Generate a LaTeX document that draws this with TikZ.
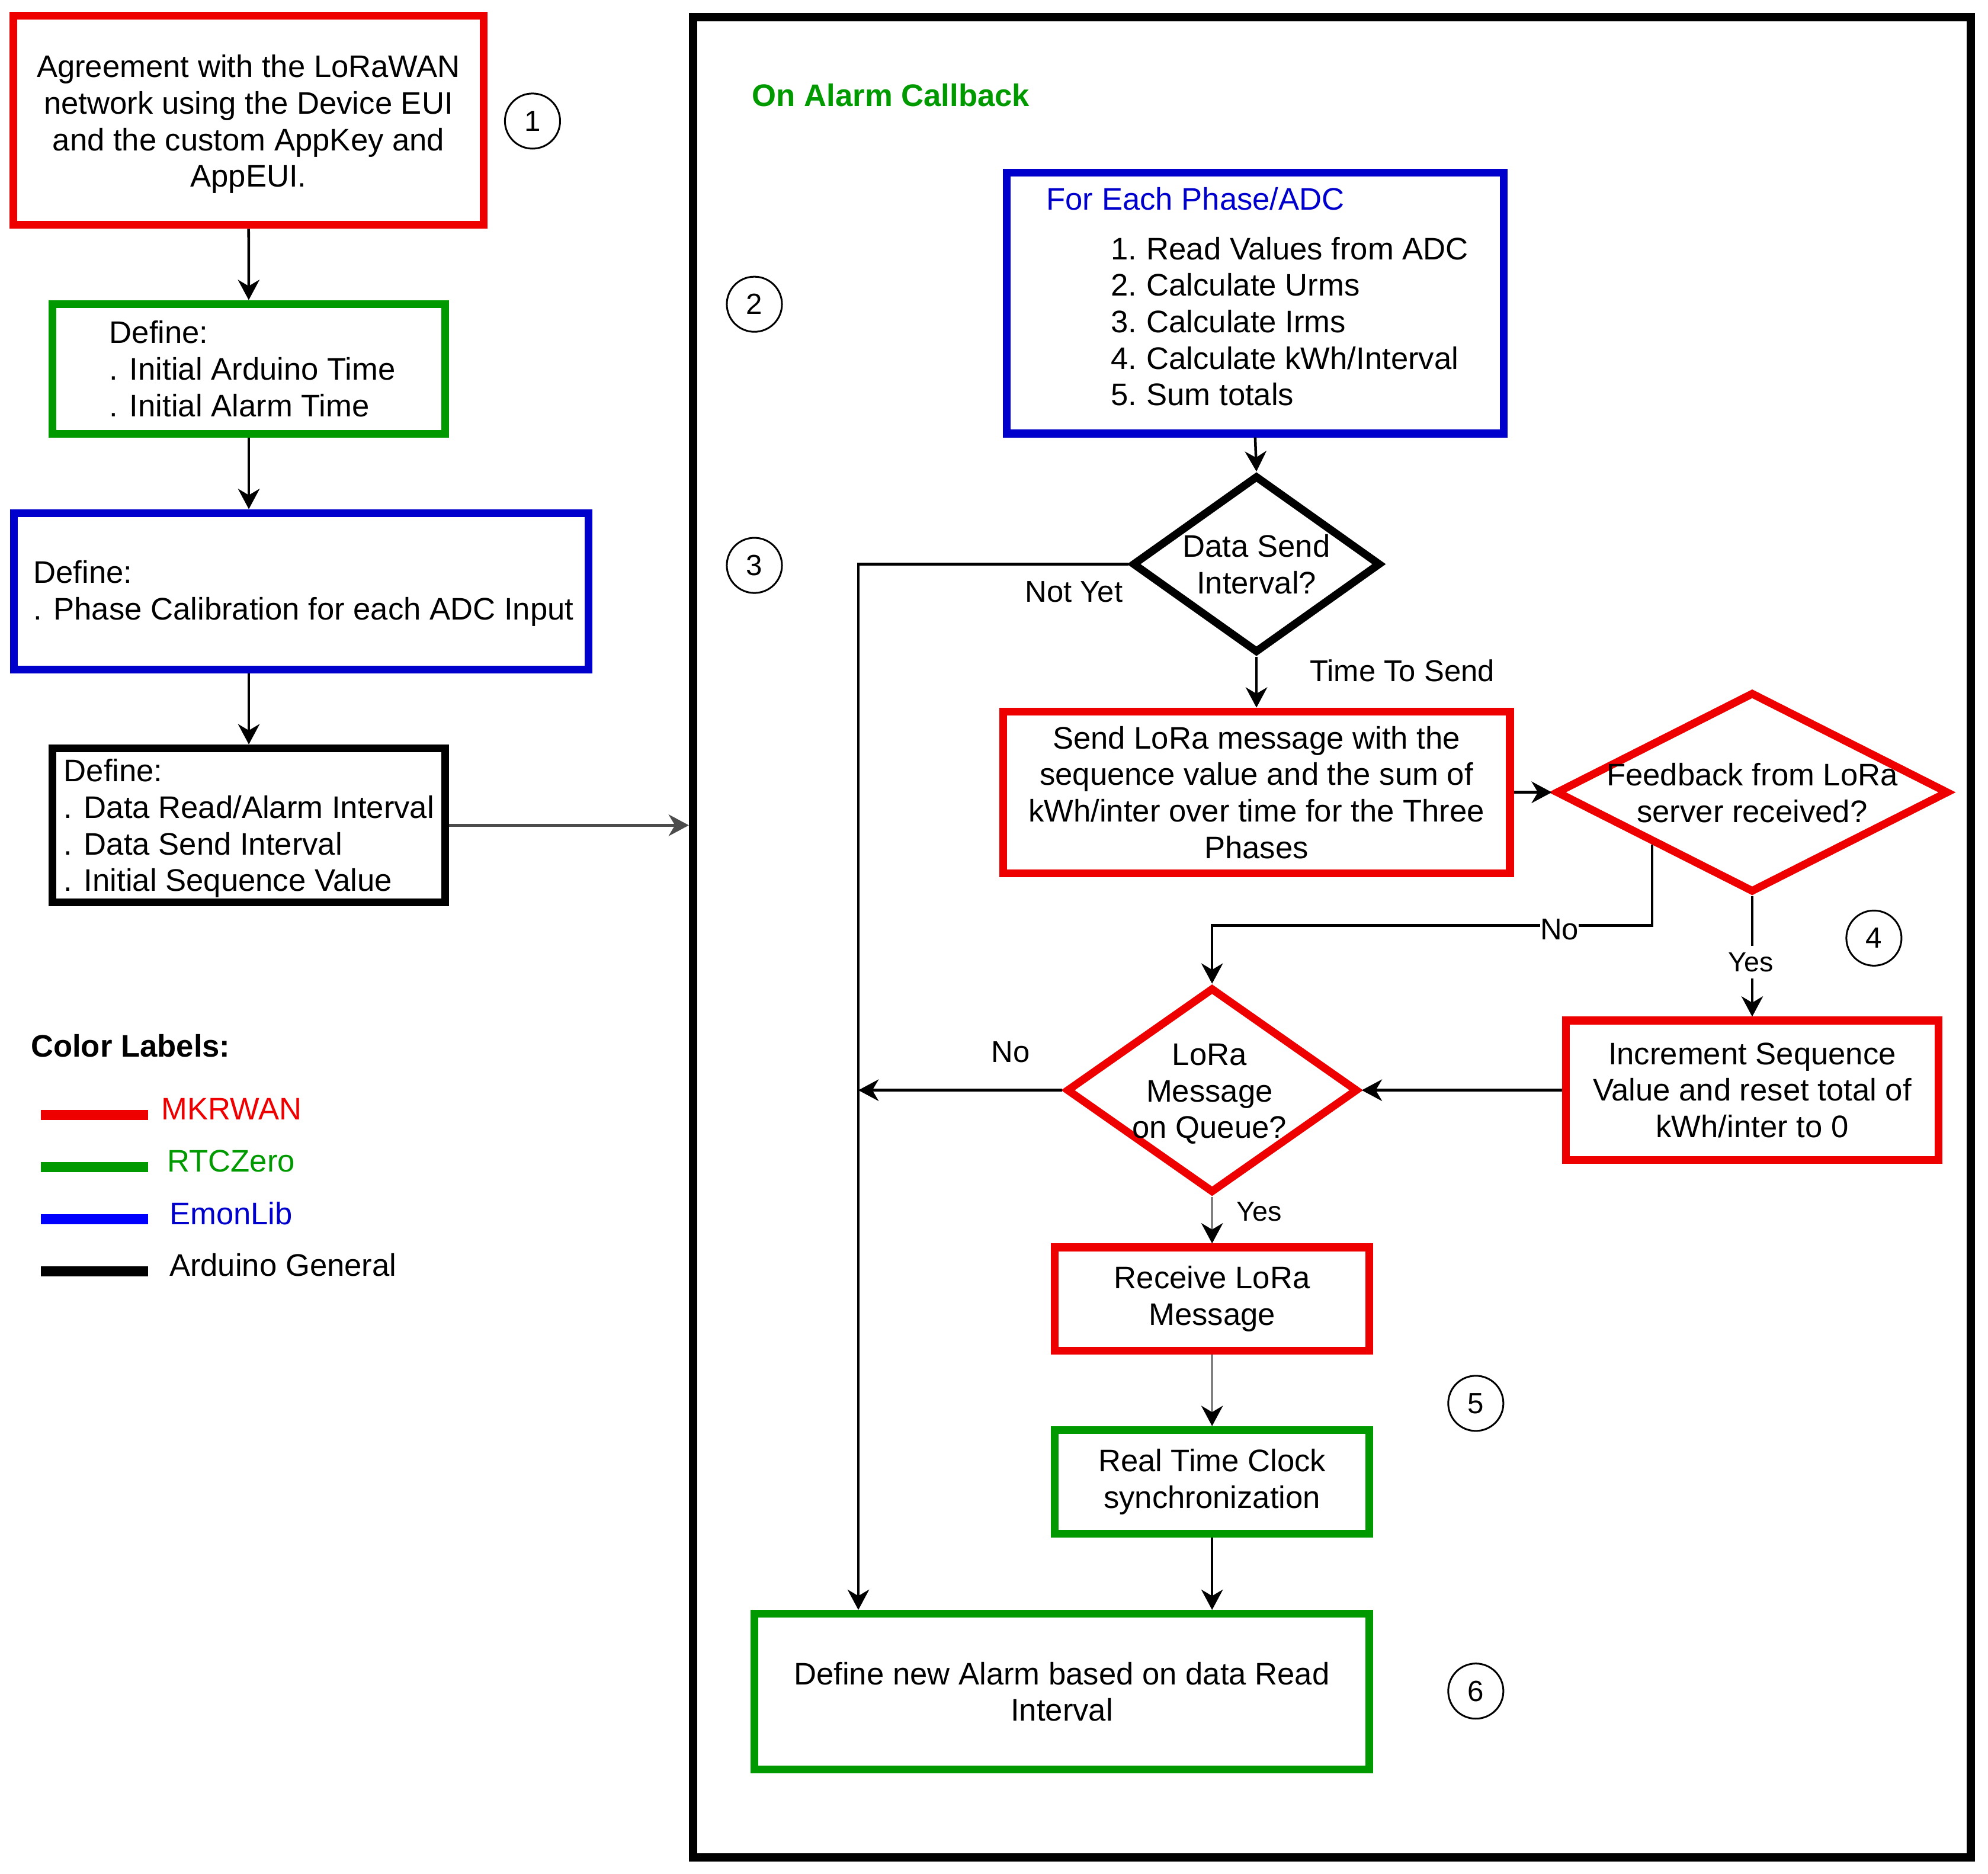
\documentclass[tikz,border=0pt]{standalone}
\usepackage{fontspec}
\setmainfont{Liberation Sans}
\usetikzlibrary{arrows.meta,shapes.geometric}
\definecolor{cred}{HTML}{EE0000}
\definecolor{cgreen}{HTML}{009900}
\definecolor{cblue}{HTML}{0000CC}
\definecolor{lblue}{HTML}{0000FF}
\begin{document}
\begin{tikzpicture}[x=0.02cm,y=-0.02cm,
  every node/.style={font=\fontsize{14.0}{16.4}\selectfont, inner sep=0pt},
  box/.style={draw, rectangle, line width=3.5pt, align=center},
  dia/.style={draw, diamond, line width=3.5pt},
  arr/.style={line width=1.2pt, -{Stealth[length=0.32cm,width=0.34cm,inset=0.1cm]}},
  arrg/.style={line width=1.2pt, draw=black!50, -{Stealth[length=0.32cm,width=0.34cm,inset=0.1cm,color=black]}},
  txt/.style={align=center},
  ltxt/.style={align=left, anchor=west},
  lbl/.style={font=\fontsize{13.5}{16}\selectfont},
  ylbl/.style={font=\fontsize{12.4}{15}\selectfont},
  num/.style={draw, circle, line width=0.8pt, minimum size=0.87cm, font=\fontsize{13.1}{15}\selectfont},
  legbar/.style={minimum width=1.694cm, minimum height=0.16cm},
]
\useasboundingbox (0,0) rectangle (1568,1478);

% outer frame
\node[draw, rectangle, line width=3.7pt, minimum width=20.16cm, minimum height=29.04cm] (fr) at (1050.5,739.5) {};

% left column
\node[box, draw=cred, minimum width=7.42cm, minimum height=3.30cm] (r1) at (196,95) {};
\node[txt] (r1t) at (196,98) {Agreement with the LoRaWAN\\network using the Device EUI\\and the custom AppKey and\\AppEUI.};
\node[num] (n1) at (420,95.5) {1};

\node[box, draw=cgreen, minimum width=6.19cm, minimum height=2.05cm] (g1) at (196.25,291) {};
\node[ltxt] (g1t) at (86,291) {Define:\\. Initial Arduino Time\\. Initial Alarm Time};

\node[box, draw=cblue, minimum width=9.07cm, minimum height=2.47cm] (b1) at (237.5,466.4) {};
\node[ltxt] (b1t) at (26,468) {Define:\\. Phase Calibration for each ADC Input};

\node[box, draw=black, minimum width=6.19cm, minimum height=2.43cm] (k1) at (196.25,651) {};
\node[ltxt] (k1t) at (50,653.5) {Define:\\. Data Read/Alarm Interval\\. Data Send Interval\\. Initial Sequence Value};

% legend
\node[anchor=west, font=\fontsize{14.0}{16.4}\selectfont\bfseries] (cl) at (24,825) {Color Labels:};
\node[legbar, fill=cred] (lb1) at (74.5,879.5) {};
\node[legbar, fill=cgreen] (lb2) at (74.5,920.7) {};
\node[legbar, fill=lblue] (lb3) at (74.5,961.8) {};
\node[legbar, fill=black] (lb4) at (74.5,1003) {};
\node[anchor=west, text=cred] (lt1) at (127,875) {MKRWAN};
\node[anchor=west, text=cgreen] (lt2) at (131.6,916) {RTCZero};
\node[anchor=west, text=cblue] (lt3) at (133.3,957) {EmonLib};
\node[anchor=west] (lt4) at (133.3,998) {Arduino General};

% right part
\node[anchor=west, text=cgreen, font=\fontsize{14.0}{16.4}\selectfont\bfseries] (oac) at (593,75) {On Alarm Callback};
\node[num] (n2) at (595,240) {2};
\node[num] (n3) at (595,446) {3};
\node[num] (n4) at (1478,740) {4};
\node[num] (n5) at (1164,1107) {5};
\node[num] (n6) at (1164,1334) {6};

\node[box, draw=cblue, minimum width=7.84cm, minimum height=4.12cm] (bl2) at (990,239) {};
\node[anchor=west, text=cblue] (bl2t) at (825,157) {For Each Phase/ADC};
\node[ltxt] (bl2l) at (876,253.5) {\makebox[0.56cm][l]{1.}Read Values from ADC\\\makebox[0.56cm][l]{2.}Calculate Urms\\\makebox[0.56cm][l]{3.}Calculate Irms\\\makebox[0.56cm][l]{4.}Calculate kWh/Interval\\\makebox[0.56cm][l]{5.}Sum totals};

\node[dia, minimum width=3.92cm, minimum height=2.8cm] (dsi) at (991,445) {};
\node[txt] (dsit) at (991,445) {Data Send\\Interval?};

\node[box, draw=cred, minimum width=8.0cm, minimum height=2.55cm] (snd) at (991,625) {Send LoRa message with the\\sequence value and the sum of\\kWh/inter over time for the Three\\Phases};

\node[dia, draw=cred, minimum width=6.2cm, minimum height=3.16cm] (fb) at (1382,625) {};
\node[txt] (fbt) at (1382,625.5) {Feedback from LoRa\\server received?};

\node[box, draw=cred, minimum width=5.88cm, minimum height=2.2cm] (inc) at (1382,860) {Increment Sequence\\Value and reset total of\\kWh/inter to 0};

\node[dia, draw=cred, minimum width=4.6cm, minimum height=3.24cm] (q) at (956,860) {};
\node[txt] (qt) at (954,863) {LoRa\\Message\\on Queue?};

\node[box, draw=cred, minimum width=4.96cm, minimum height=1.63cm] (rcv) at (956,1024.7) {Receive LoRa\\Message};
\node[box, draw=cgreen, minimum width=4.96cm, minimum height=1.64cm] (rtc) at (956,1169) {Real Time Clock\\synchronization};
\node[box, draw=cgreen, minimum width=9.7cm, minimum height=2.46cm] (alm) at (837.5,1334.5) {Define new Alarm based on data Read\\Interval};

% connectors
\draw[arr] (r1) -- (g1);
\draw[arr] (g1.south) -- (g1.south |- b1.north);
\draw[arr] (b1.south -| k1) -- (k1.north);
\draw[arr, draw=black!70] (k1.east) -- (k1.east -| fr.west);

\draw[arr] (bl2.south) -- (dsi.north);
\coordinate (vx) at (677,445);
\draw[arr] (dsi.west) -- (vx) -- (vx |- alm.north);
\draw[arr] (dsi.south) -- (snd.north);
\draw[arr] (snd.east) -- (fb.west);
\coordinate (nob) at (1305,730);
\draw[arr] (fb.south west) |- (nob -| q.north) -- (q.north);
\draw[arr] (fb.south) -- (inc.north);
\draw[arr] (inc.west) -- (q.east);
\draw[arr] (q.west) -- (q.west -| vx);
\draw[arrg] (q.south) -- (rcv.north);
\draw[arrg] (rcv.south) -- (rtc.north);
\draw[arr] (rtc.south) -- (alm.north -| rtc.south);

% edge labels
\node[lbl] (notyet) at (847,467) {Not Yet};
\node[lbl] (tts) at (1106,529) {Time To Send};
\node[lbl, fill=white] (no1) at (1230,733) {No};
\node[ylbl, fill=white, inner sep=3pt] (yes1) at (1381,759) {Yes};
\node[lbl] (no2) at (797,830) {No};
\node[ylbl] (yes2) at (993,956) {Yes};
\end{tikzpicture}
\end{document}
